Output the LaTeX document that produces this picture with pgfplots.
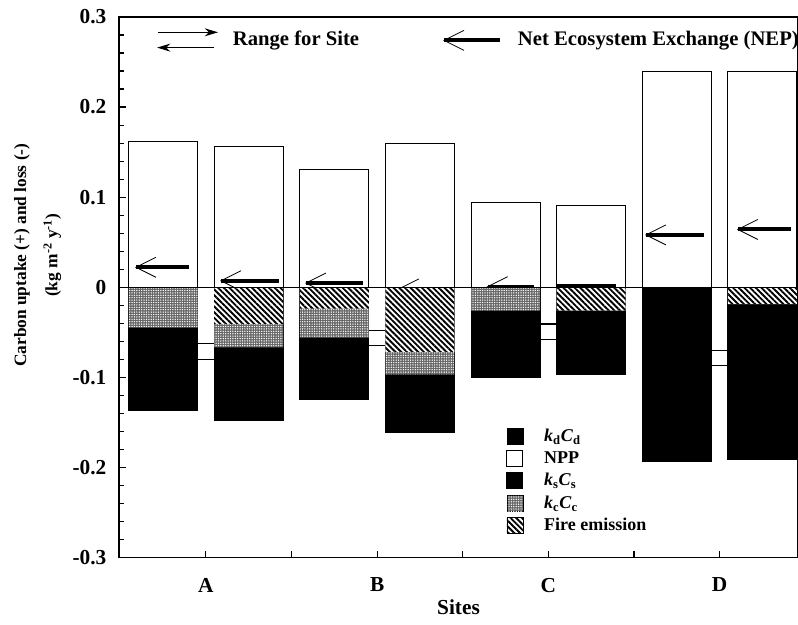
\documentclass[border=0pt]{standalone}
\usepackage{fontspec}
\setmainfont{Liberation Serif}
\usepackage{pgfplots}
\pgfplotsset{compat=1.18}
\usetikzlibrary{arrows.meta,patterns,patterns.meta}

% square legend keys, with room before the text
\pgfplotsset{sqleg/.style={legend image code/.code={\draw[##1] (0pt,-6pt) rectangle (12pt,6pt);
  \pgfpathmoveto{\pgfqpoint{26pt}{0pt}}\pgfusepath{discard}}}}
\newcommand\lbl{\fontsize{13.5}{15}\selectfont\bfseries}
\newcommand\bigfnt{\fontsize{16}{18}\selectfont\bfseries}
\newcommand\keyfnt{\fontsize{15.5}{18}\selectfont\bfseries}

\begin{document}
\begin{tikzpicture}
\begin{axis}[
  name=ax,
  scale only axis,
  width=509pt, height=405pt,
  xmin=0.486, xmax=8.415,
  ymin=-0.3, ymax=0.3,
  ytick={-0.3,-0.2,-0.1,0,0.1,0.2,0.3},
  yticklabels={-0.3,-0.2,-0.1,0,0.1,0.2,0.3},
  minor y tick num=4,
  xtick={1.5,2.5,3.5,4.5,5.5,6.5,7.5},
  xticklabels={A,,B,,C,,D},
  tick align=inside,
  xtick pos=bottom, ytick pos=left,
  major tick length=5pt, minor tick length=4pt,
  tick style={black, line width=0.8pt},
  axis line style={line width=1pt},
  font=\lbl,
  ticklabel style={font=\bigfnt},
  /pgf/number format/assume math mode=true,
  xticklabel style={yshift=-12pt},
  yticklabel style={xshift=-6pt},
  xlabel={Sites},
  xlabel style={font=\bigfnt, yshift=1pt},
  ylabel={Carbon uptake (+) and loss (-)\\[9pt](kg m\textsuperscript{-2} y\textsuperscript{-1})},
  ylabel style={font=\fontsize{13}{14.5}\selectfont\bfseries, align=center,
    at={(axis description cs:-0.12,0.559)}, anchor=center},
  legend style={at={(axis description cs:0.568,0.245)}, anchor=north west,
    draw=none, fill=none, font=\lbl, row sep=2pt, inner sep=1pt},
  legend cell align=left,
]

% kd Cd (legend only)
\addlegendimage{sqleg, fill=black, draw=black}
\addlegendentry{\textit{k}\textsubscript{d}\textit{C}\textsubscript{d}}

% NPP
\addplot[ybar, bar width=0.806, bar shift=0pt, fill=white, draw=black, line width=0.8pt, sqleg]
coordinates {(1,0.162) (2,0.156) (3,0.131) (4,0.160) (5,0.094) (6,0.091) (7,0.239) (8,0.239)};
\addlegendentry{NPP}

% range for site lines
\addplot[forget plot, black, line width=0.8pt] coordinates {(1.35,-0.063) (1.65,-0.063)};
\addplot[forget plot, black, line width=0.8pt] coordinates {(1.35,-0.080) (1.65,-0.080)};
\addplot[forget plot, black, line width=0.8pt] coordinates {(3.35,-0.048) (3.65,-0.048)};
\addplot[forget plot, black, line width=0.8pt] coordinates {(3.35,-0.065) (3.65,-0.065)};
\addplot[forget plot, black, line width=0.8pt] coordinates {(5.35,-0.041) (5.65,-0.041)};
\addplot[forget plot, black, line width=0.8pt] coordinates {(5.35,-0.058) (5.65,-0.058)};
\addplot[forget plot, black, line width=0.8pt] coordinates {(7.35,-0.070) (7.65,-0.070)};
\addplot[forget plot, black, line width=0.8pt] coordinates {(7.35,-0.087) (7.65,-0.087)};

% NEP arrows
\addplot[forget plot, line width=3pt, -{Straight Barb[length=15pt,width=15pt,line width=0.6pt]}]
  coordinates {(1.304,0.022) (0.673,0.022)};
\addplot[forget plot, line width=3pt, -{Straight Barb[length=15pt,width=15pt,line width=0.6pt]}]
  coordinates {(2.355,0.007) (1.666,0.007)};
\addplot[forget plot, line width=3pt, -{Straight Barb[length=15pt,width=15pt,line width=0.6pt]}]
  coordinates {(3.335,0.0045) (2.658,0.0045)};
\addplot[forget plot, line width=3pt, -{Straight Barb[length=15pt,width=15pt,line width=0.6pt]}]
  coordinates {(4.30,-0.002) (3.744,-0.002)};
\addplot[forget plot, line width=3pt, -{Straight Barb[length=15pt,width=15pt,line width=0.6pt]}]
  coordinates {(5.33,0.0005) (4.78,0.0005)};
\addplot[forget plot, line width=3pt]
  coordinates {(6.29,0.0015) (5.60,0.0015)};
\addplot[forget plot, line width=3pt, -{Straight Barb[length=15pt,width=15pt,line width=0.6pt]}]
  coordinates {(7.317,0.058) (6.628,0.058)};
\addplot[forget plot, line width=3pt, -{Straight Barb[length=15pt,width=15pt,line width=0.6pt]}]
  coordinates {(8.333,0.064) (7.702,0.064)};

% ks Cs (lower edge of each bar)
\addplot[ybar, bar width=0.806, bar shift=0pt, fill=black, draw=black, line width=0.8pt, sqleg]
coordinates {(1,-0.137) (2,-0.148) (3,-0.125) (4,-0.161) (5,-0.100) (6,-0.097) (7,-0.194) (8,-0.191)};
\addlegendentry{\textit{k}\textsubscript{s}\textit{C}\textsubscript{s}}

% kc Cc (lower edge of speckled part)
\addplot[ybar, bar width=0.806, bar shift=0pt, fill=black!60, draw=none,
  postaction={pattern={Dots[radius=0.55pt,distance=1.8pt]}, pattern color=white}, sqleg]
coordinates {(1,-0.045) (2,-0.067) (3,-0.056) (4,-0.097) (5,-0.026)};
\addlegendentry{\textit{k}\textsubscript{c}\textit{C}\textsubscript{c}}

% fire emission
\addplot[ybar, bar width=0.806, bar shift=0pt, fill=white, draw=none,
  postaction={pattern={Lines[angle=-45,distance=3pt,line width=1.4pt]}}, sqleg]
coordinates {(2,-0.041) (3,-0.024) (4,-0.072) (6,-0.026) (8,-0.019)};
\addlegendentry{Fire emission}

% zero line
\addplot[forget plot, black, line width=0.8pt] coordinates {(0.486,0) (8.415,0)};

% top key
\addplot[forget plot, line width=0.9pt, -{Stealth[length=10pt,width=6pt]}]
  coordinates {(0.942,0.283) (1.642,0.283)};
\addplot[forget plot, line width=0.9pt, -{Stealth[length=10pt,width=6pt]}]
  coordinates {(1.60,0.266) (0.93,0.266)};
\node[anchor=west, font=\keyfnt] at (axis cs:1.76,0.274) {Range for Site};
\addplot[forget plot, line width=3pt, -{Straight Barb[length=15pt,width=15pt,line width=0.6pt]}]
  coordinates {(4.935,0.274) (4.27,0.274)};
\node[anchor=west, font=\keyfnt] at (axis cs:5.09,0.274) {Net Ecosystem Exchange (NEP)};
\end{axis}
\pgfresetboundingbox
\path[use as bounding box] ([xshift=-89.25pt,yshift=-50.25pt]ax.south west) rectangle ([yshift=12.75pt]ax.north east);
\end{tikzpicture}
\end{document}
